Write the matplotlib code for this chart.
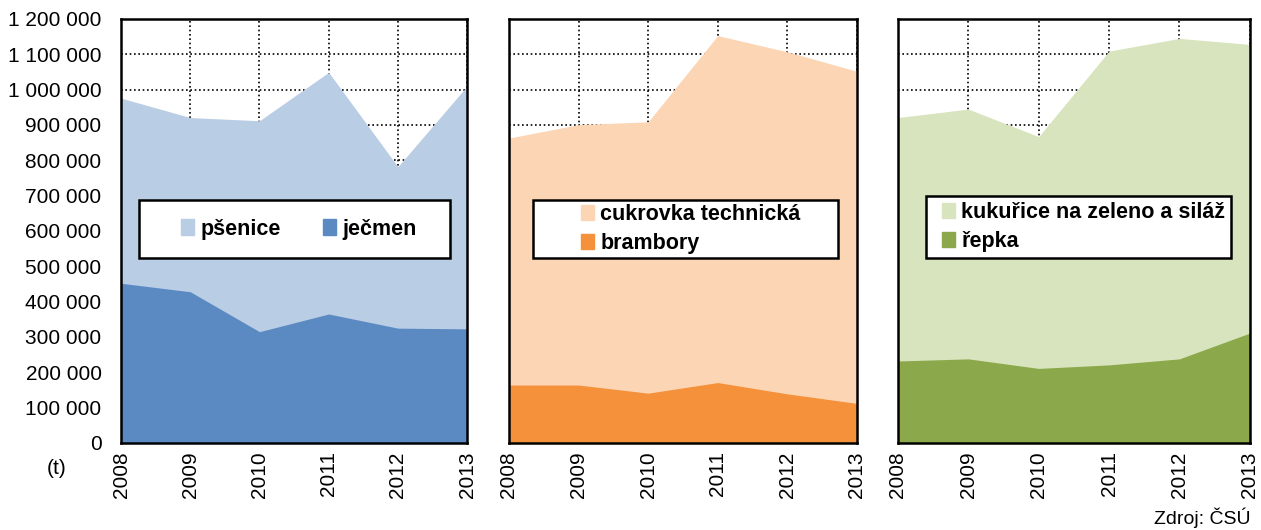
import matplotlib.pyplot as plt
import matplotlib.patches as mpatches
from matplotlib.ticker import FuncFormatter

plt.rcParams['font.family'] = ['Liberation Sans', 'DejaVu Sans']

years = [2008, 2009, 2010, 2011, 2012, 2013]

psenice = [976000, 921000, 912000, 1049000, 782000, 1010000]
jecmen = [452000, 428000, 315000, 365000, 325000, 323000]

cukrovka = [863000, 901000, 909000, 1153000, 1107000, 1052000]
brambory = [164000, 164000, 141000, 171000, 139000, 112000]

kukurice = [921000, 945000, 867000, 1109000, 1145000, 1128000]
repka = [232000, 238000, 211000, 221000, 238000, 311000]

panels = [
    (("pšenice", psenice, "#B9CDE5"), ("ječmen", jecmen, "#5B89C2")),
    (("cukrovka technická", cukrovka, "#FCD5B5"), ("brambory", brambory, "#F5913A")),
    (("kukuřice na zeleno a siláž", kukurice, "#D7E4BD"), ("řepka", repka, "#8BA84A")),
]

W, H = 1261, 530
fig = plt.figure(figsize=(W / 100, H / 100), dpi=100)

axes_pos = [
    [0.0960, 0.1642, 0.2744, 0.800],
    [0.4036, 0.1642, 0.2760, 0.800],
    [0.7121, 0.1642, 0.2790, 0.800],
]
# legend box (x0, y0, x1, y1) and first handle x, in pixels
legend_box = [(139, 200, 450, 258), (533, 200, 838, 258), (926, 196, 1231, 258)]
legend_x = [181, 581, 942]

fmt = FuncFormatter(lambda v, p: f"{int(v):,}".replace(",", " "))

for i, (pos, (big, small)) in enumerate(zip(axes_pos, panels)):
    ax = fig.add_axes(pos)
    ax.set_axisbelow(True)
    ax.grid(True, color="black", linestyle=(0, (1.0, 1.6)), linewidth=1.2)
    ax.fill_between(years, big[1], color=big[2], linewidth=0, zorder=2)
    ax.fill_between(years, small[1], color=small[2], linewidth=0, zorder=3)
    ax.set_xlim(2008, 2013)
    ax.set_ylim(0, 1200000)
    ax.set_yticks(range(0, 1200001, 100000))
    ax.set_xticks(years)
    ax.set_xticklabels([str(y) for y in years], rotation=90, fontsize=15)
    ax.tick_params(length=0, pad=6)
    if i == 0:
        ax.yaxis.set_major_formatter(fmt)
        ax.tick_params(axis="y", labelsize=15, pad=14)
    else:
        ax.set_yticklabels([])
    for s in ax.spines.values():
        s.set_linewidth(1.8)
        s.set_color("black")
        s.set_zorder(5)

    x0, y0, x1, y1 = legend_box[i]
    fig.add_artist(mpatches.Rectangle((x0 / W, 1 - y1 / H), (x1 - x0) / W, (y1 - y0) / H,
                                      transform=fig.transFigure, facecolor="white",
                                      edgecolor="black", linewidth=1.8, zorder=8))
    handles = [mpatches.Patch(color=big[2], label=big[0]),
               mpatches.Patch(color=small[2], label=small[0])]
    leg = fig.legend(handles=handles, ncol=2 if i == 0 else 1, loc="center left",
                     bbox_to_anchor=(legend_x[i] / W, 1 - (y0 + y1) / 2 / H),
                     bbox_transform=fig.transFigure,
                     prop={"weight": "bold", "size": 15.5}, frameon=False,
                     handlelength=0.6, handleheight=0.75, handletextpad=0.3,
                     labelspacing=0.38, borderpad=0, borderaxespad=0,
                     columnspacing=1.95)
    leg.set_zorder(10)

fig.text(57 / W, 1 - 468 / H, "(t)", fontsize=15, ha="center", va="center")
fig.text(1251 / W, 1 - 524 / H, "Zdroj: ČSÚ", fontsize=14, ha="right", va="baseline")

plt.savefig("out.png", dpi=100)
